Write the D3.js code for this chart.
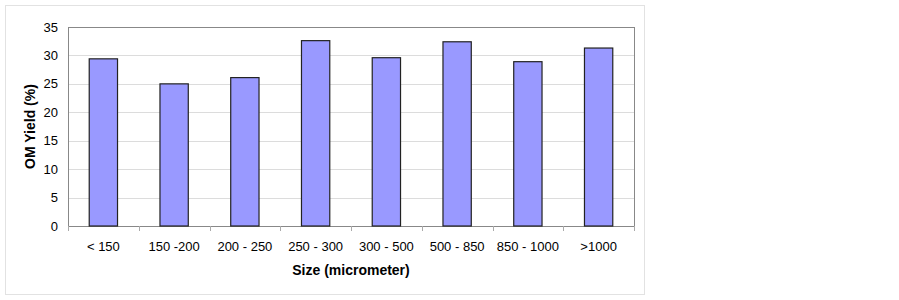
<!DOCTYPE html>
<html>
<head>
<meta charset="utf-8">
<script src="https://cdn.jsdelivr.net/npm/d3@7"></script>
<style>
  body { margin: 0; background: #fff; }
  text { font-family: "Liberation Sans", Arial, sans-serif; }
</style>
</head>
<body>
<div id="container"></div>
<script>
/**
 * DATA
 * */
const sizes = ["< 150", "150 -200", "200 - 250", "250 - 300", "300 - 500", "500 - 850", "850 - 1000", ">1000"];
const omYield = [29.4, 25.0, 26.1, 32.6, 29.6, 32.4, 28.9, 31.3];
const yTicks = [0, 5, 10, 15, 20, 25, 30, 35];

/**
 * CONSTANTS
 * */
const width = 899,
  height = 300,
  margin = { top: 27, bottom: 74, left: 68, right: 265 };

const svg = d3.select("#container")
  .append("svg")
  .attr("width", width)
  .attr("height", height);

// outer chart frame
svg.append("rect")
  .attr("x", 5.5).attr("y", 5.5)
  .attr("width", 639).attr("height", 289)
  .attr("fill", "#fff")
  .attr("stroke", "#e2e2e2");

const x = d3.scaleBand()
  .domain(sizes)
  .range([margin.left, width - margin.right])
  .paddingInner(0.6)
  .paddingOuter(0.3);

const y = d3.scaleLinear()
  .domain([0, 35])
  .range([height - margin.bottom, margin.top]);

// gridlines
svg.append("g")
  .selectAll("line")
  .data(yTicks.slice(1))
  .join("line")
  .attr("x1", margin.left).attr("x2", width - margin.right)
  .attr("y1", d => Math.round(y(d)) + 0.5)
  .attr("y2", d => Math.round(y(d)) + 0.5)
  .attr("stroke", "#dcdcdc");

// plot border
svg.append("rect")
  .attr("x", margin.left + 0.5).attr("y", Math.round(y(35)) + 0.5)
  .attr("width", width - margin.right - margin.left)
  .attr("height", Math.round(y(0)) - Math.round(y(35)))
  .attr("fill", "none")
  .attr("stroke", "#888");

// bars
svg.append("g")
  .selectAll("rect")
  .data(omYield)
  .join("rect")
  .attr("x", (d, i) => x(sizes[i]))
  .attr("y", d => y(d))
  .attr("width", x.bandwidth())
  .attr("height", d => y(0) - y(d))
  .attr("fill", "#9999ff")
  .attr("stroke", "#222")
  .attr("stroke-width", 1.2);

// y axis labels
svg.append("g")
  .selectAll("text")
  .data(yTicks)
  .join("text")
  .attr("x", margin.left - 10)
  .attr("y", d => y(d))
  .attr("dy", "0.35em")
  .attr("text-anchor", "end")
  .attr("font-size", 13)
  .attr("fill", "#000")
  .text(d => d);

// x axis with tick marks at category boundaries
const step = x.step();
const xAxis = svg.append("g");
const bounds = d3.range(sizes.length + 1).map(i => margin.left + i * step);
xAxis.selectAll("line")
  .data(bounds)
  .join("line")
  .attr("x1", d => Math.round(d) + 0.5).attr("x2", d => Math.round(d) + 0.5)
  .attr("y1", Math.round(y(0))).attr("y2", Math.round(y(0)) + 5)
  .attr("stroke", "#aaa");

xAxis.selectAll("text")
  .data(sizes)
  .join("text")
  .attr("x", d => x(d) + x.bandwidth() / 2)
  .attr("y", y(0) + 25)
  .attr("text-anchor", "middle")
  .attr("font-size", 13)
  .attr("fill", "#000")
  .text(d => d);

// axis titles
svg.append("text")
  .attr("x", (margin.left + width - margin.right) / 2)
  .attr("y", 275)
  .attr("text-anchor", "middle")
  .attr("font-size", 14)
  .attr("font-weight", "bold")
  .text("Size (micrometer)");

svg.append("text")
  .attr("transform", `translate(34.5, ${(y(0) + y(35)) / 2}) rotate(-90)`)
  .attr("text-anchor", "middle")
  .attr("font-size", 14)
  .attr("font-weight", "bold")
  .text("OM Yield (%)");
</script>
</body>
</html>
